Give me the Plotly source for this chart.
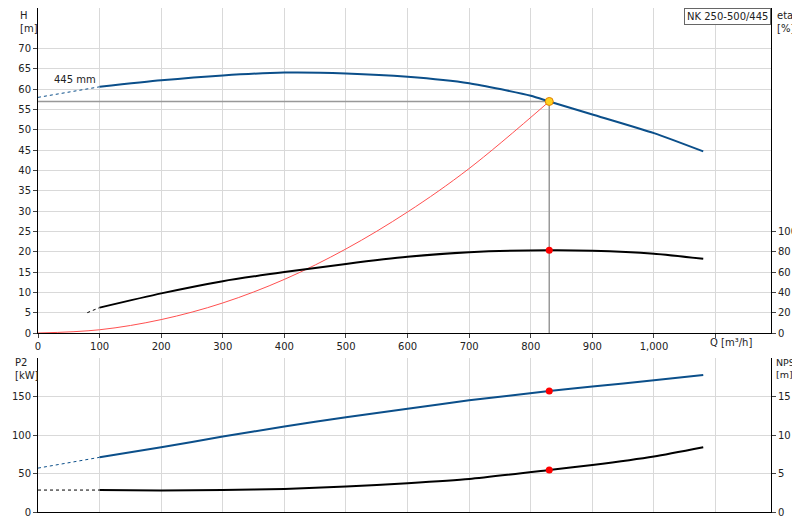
import plotly.graph_objects as go

q_h_dash = [0, 100]; h_dash = [58.0, 60.6]
q_h = [100, 200, 300, 400, 500, 600, 700, 800, 830, 900, 1000, 1080]
h = [60.6, 62.2, 63.4, 64.1, 63.9, 63.1, 61.5, 58.4, 57.0, 53.8, 49.2, 44.7]
q_eta_dash = [80, 100]; eta_dash = [20, 25]
q_eta = [100, 200, 300, 400, 500, 600, 700, 830, 900, 1000, 1080]
eta = [25, 39, 51, 60, 68, 75, 79.5, 81.5, 81, 78, 73]
q_sys = [0, 100, 200, 300, 400, 500, 600, 700, 830]
h_sys = [0, 0.8, 3.3, 7.4, 13.2, 20.7, 29.8, 40.5, 57.0]
q_p2_dash = [0, 100]; p2_dash = [57, 71]
q_p2 = [100, 200, 300, 400, 500, 600, 700, 830, 900, 1000, 1080]
p2 = [71, 84, 98, 111, 123, 134, 145, 157, 163, 171, 178]
q_npsh_dash = [0, 100]; npsh_dash = [2.85, 2.85]
q_npsh = [100, 200, 300, 400, 500, 600, 700, 830, 900, 1000, 1080]
npsh = [2.85, 2.8, 2.85, 3.0, 3.3, 3.75, 4.3, 5.45, 6.1, 7.2, 8.4]
q_op = 830; h_op = 57.0; eta_op = 81.5; p2_op = 157; npsh_op = 5.45
x_ticks = [0, 100, 200, 300, 400, 500, 600, 700, 800, 900, 1000, 1100]
x_labels = ["0", "100", "200", "300", "400", "500", "600", "700", "800", "900", "1,000", ""]

BLUE = "#0b4f8a"
fig = go.Figure()
fig.add_trace(go.Scatter(x=[0, q_op, q_op], y=[h_op, h_op, 0], mode="lines", line=dict(color="#999", width=1.5), xaxis="x", yaxis="y"))
fig.add_trace(go.Scatter(x=q_sys, y=h_sys, mode="lines", line=dict(color="#ff5050", width=1, shape="spline"), xaxis="x", yaxis="y"))
fig.add_trace(go.Scatter(x=q_h_dash, y=h_dash, mode="lines", line=dict(color=BLUE, width=1, dash="dot"), xaxis="x", yaxis="y"))
fig.add_trace(go.Scatter(x=q_h, y=h, mode="lines", line=dict(color=BLUE, width=2, shape="spline", smoothing=0.6), xaxis="x", yaxis="y"))
fig.add_trace(go.Scatter(x=q_eta_dash, y=eta_dash, mode="lines", line=dict(color="black", width=1, dash="dot"), xaxis="x", yaxis="y2"))
fig.add_trace(go.Scatter(x=q_eta, y=eta, mode="lines", line=dict(color="black", width=2, shape="spline", smoothing=0.6), xaxis="x", yaxis="y2"))
fig.add_trace(go.Scatter(x=[q_op], y=[eta_op], mode="markers", marker=dict(color="red", size=7), xaxis="x", yaxis="y2"))
fig.add_trace(go.Scatter(x=[q_op], y=[h_op], mode="markers", marker=dict(color="#ffd21f", size=8, line=dict(color="#e08000", width=1)), xaxis="x", yaxis="y"))
fig.add_trace(go.Scatter(x=q_p2_dash, y=p2_dash, mode="lines", line=dict(color=BLUE, width=1, dash="dot"), xaxis="x2", yaxis="y3"))
fig.add_trace(go.Scatter(x=q_p2, y=p2, mode="lines", line=dict(color=BLUE, width=2, shape="spline", smoothing=0.6), xaxis="x2", yaxis="y3"))
fig.add_trace(go.Scatter(x=[q_op], y=[p2_op], mode="markers", marker=dict(color="red", size=7), xaxis="x2", yaxis="y3"))
fig.add_trace(go.Scatter(x=q_npsh_dash, y=npsh_dash, mode="lines", line=dict(color="black", width=1, dash="dot"), xaxis="x2", yaxis="y4"))
fig.add_trace(go.Scatter(x=q_npsh, y=npsh, mode="lines", line=dict(color="black", width=2, shape="spline", smoothing=0.6), xaxis="x2", yaxis="y4"))
fig.add_trace(go.Scatter(x=[q_op], y=[npsh_op], mode="markers", marker=dict(color="red", size=7), xaxis="x2", yaxis="y4"))

H = 504.0
def py(pix):  # paper y for pixel row
    return (H - pix) / H

grid = "#d9d9d9"
ax = dict(showline=True, linecolor="black", ticks="outside", ticklen=4, zeroline=False, automargin=False)
fig.update_layout(
    width=800, height=520, margin=dict(l=30, r=37, t=0, b=16, autoexpand=False), showlegend=False,
    plot_bgcolor="white", paper_bgcolor="white",
    font=dict(family="DejaVu Sans", size=10, color="#222"),
    xaxis=dict(domain=[0, 1], range=[0, 1190], tickvals=x_ticks, ticktext=x_labels, showgrid=True, gridcolor=grid, anchor="y", **ax),
    yaxis=dict(domain=[py(325), 1], range=[0, 80], tickvals=list(range(0, 75, 5)), showgrid=True, gridcolor=grid, **ax),
    yaxis2=dict(overlaying="y", side="right", range=[0, 320], tickvals=[0, 20, 40, 60, 80, 100], showgrid=False, anchor="x", **ax),
    xaxis2=dict(domain=[0, 1], range=[0, 1190], tickvals=x_ticks, showticklabels=False, showgrid=True, gridcolor=grid,
                showline=True, linecolor="black", anchor="y3", zeroline=False, automargin=False),
    yaxis3=dict(domain=[0, py(350)], range=[0, 200], tickvals=[0, 50, 100, 150], showgrid=True, gridcolor=grid, anchor="x2", **ax),
    yaxis4=dict(overlaying="y3", side="right", range=[0, 20], tickvals=[0, 5, 10, 15], showgrid=False, anchor="x2", **ax),
    annotations=[
        dict(text="H<br>[m]", x=-20/733, y=1, xref="paper", yref="paper", showarrow=False, xanchor="left", yanchor="top", align="left"),
        dict(text="eta<br>[%]", x=1+4/733, y=1, xref="paper", yref="paper", showarrow=False, xanchor="left", yanchor="top", align="left"),
        dict(text="P2<br>[kW]", x=-25/733, y=py(347), xref="paper", yref="paper", showarrow=False, xanchor="left", yanchor="top", align="left"),
        dict(text="NPSH<br>[m]", x=1+3/733, y=py(347), xref="paper", yref="paper", showarrow=False, xanchor="left", yanchor="top", align="left",
             font=dict(size=9.5)),
        dict(text="Q [m³/h]", x=1125, y=0, xref="x", yref="y", showarrow=False, yanchor="top", yshift=-2),
        dict(text="445 mm", x=60, y=62.5, xref="x", yref="y", showarrow=False),
        dict(text="NK 250-500/445", x=1, y=1, xref="paper", yref="paper", showarrow=False, xanchor="right", yanchor="top",
             bordercolor="#666", borderwidth=1, bgcolor="white", borderpad=2),
    ],
)
fig.write_html("out.html")
